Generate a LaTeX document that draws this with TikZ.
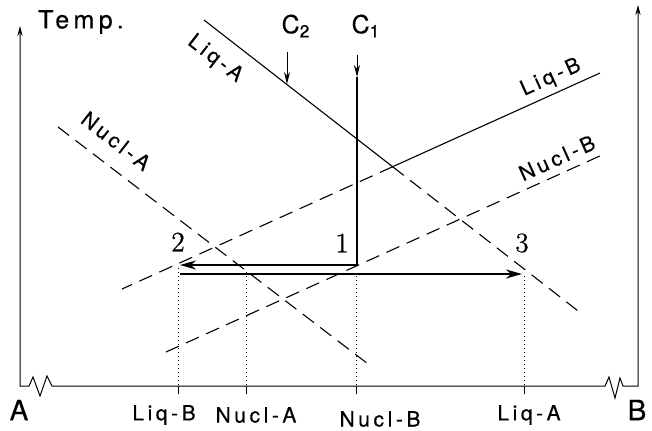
\documentclass[tikz,border=0pt]{standalone}
\usepackage{fontspec}
\newfontfamily\labfont{TeX Gyre Heros}[LetterSpace=17, FakeBold=0.4]
\newfontfamily\numfont{Latin Modern Roman}[FakeBold=0.6]
\usetikzlibrary{arrows.meta}

\begin{document}
\begin{tikzpicture}[x=0.5pt,y=-0.5pt,
  every node/.style={font=\labfont\fontsize{10.5}{12}\selectfont, inner sep=0pt},
  big/.style={font=\labfont\fontsize{12.5}{14}\selectfont},
  huge/.style={font=\labfont\fontsize{14}{16}\selectfont},
  num/.style={font=\numfont\fontsize{14}{16}\selectfont},
  axis/.style={line width=0.5pt},
  liquidus/.style={line width=0.55pt},
  nucl/.style={line width=0.55pt, dash pattern=on 7pt off 4pt},
  route/.style={line width=1.1pt},
  guide/.style={line width=0.5pt, dash pattern=on 0.5pt off 1.5pt}]
\useasboundingbox (0,0) rectangle (652,430);

% axes with broken base line
\coordinate (orgA) at (20,386);
\coordinate (topA) at (20,26);
\coordinate (orgB) at (638,386);
\coordinate (topB) at (638,5);
\draw[axis, {Stealth[length=5pt,width=2.6pt]}-{Stealth[length=5pt,width=2.6pt]}]
  (topA) -- (orgA) -- (29,386) -- (33,377) -- (40,396) -- (47,376) -- (52,386)
  -- (605,386) -- (609,377) -- (615,398) -- (620,378) -- (623,386) -- (orgB) -- (topB);

% liquidus and nucleation lines
\coordinate (liqA1) at (204,20);
\coordinate (liqA2) at (582,314);
\coordinate (liqB1) at (122,289);
\coordinate (liqB2) at (600,73);
\coordinate (nuclA1) at (58,127);
\coordinate (nuclA2) at (372,367);
\coordinate (nuclB1) at (166,352);
\coordinate (nuclB2) at (602,155);
\coordinate (eut) at (intersection of liqA1--liqA2 and liqB1--liqB2);
\draw[liquidus] (liqA1) -- (eut) -- (liqB2);
\draw[nucl] (eut) -- (liqA2);
\draw[nucl] (eut) -- (liqB1);
\draw[nucl] (nuclA1) -- (nuclA2);
\draw[nucl] (nuclB1) -- (nuclB2);

% compositions C1, C2
\coordinate (c2top) at (287,52);
\coordinate (c2end) at (287,84);
\coordinate (c1top) at (357,55);
\coordinate (c1mid) at (357,77);
\draw[axis, -{Stealth[length=6pt,width=3pt]}] (c2top) -- (c2end);
\draw[axis, -{Stealth[length=6pt,width=3pt]}] (c1top) -- (c1mid);

% cooling path
\coordinate (p1) at (357,265);
\coordinate (p2) at (180,265);
\coordinate (q2) at (180,274);
\coordinate (p3) at (522,274);
\draw[route, -{Stealth[length=8pt,width=4.5pt]}] (c1mid) -- (p1) -- (p2);
\draw[route, -{Stealth[length=8pt,width=4.5pt]}] (q2) -- (p3);

% projections onto the composition axis
\foreach \x/\y in {178/268, 246/272, 356/276, 524/276} {
  \draw[guide] (\x,\y) -- (\x,386);
  \draw[axis] (\x,386) -- (\x,394);
}

% labels
\node[font=\labfont\fontsize{12.5}{14}\selectfont] (temp) at (81,22) {Temp.};
\node[huge] (labA) at (19,410) {A};
\node[huge] (labB) at (637,410) {B};
\node[big] (c2) at (296,26) {C\textsubscript{2}};
\node[big] (c1) at (366,26) {C\textsubscript{1}};
\node[rotate=-37.9] (tLiqA) at (215,59) {Liq-A};
\node[rotate=-37.9] (tNuclA) at (116,141) {Nucl-A};
\node[rotate=24.3] (tLiqB) at (551,78) {Liq-B};
\node[rotate=24.3] (tNuclB) at (557,158) {Nucl-B};
\node (bLiqB) at (164,415) {Liq-B};
\node (bNuclA) at (256,415) {Nucl-A};
\node (bNuclB) at (380,419) {Nucl-B};
\node (bLiqA) at (529,415) {Liq-A};
\node[num] (n1) at (342,243) {1};
\node[num] (n2) at (178,242) {2};
\node[num] (n3) at (522,243) {3};
\end{tikzpicture}
\end{document}
